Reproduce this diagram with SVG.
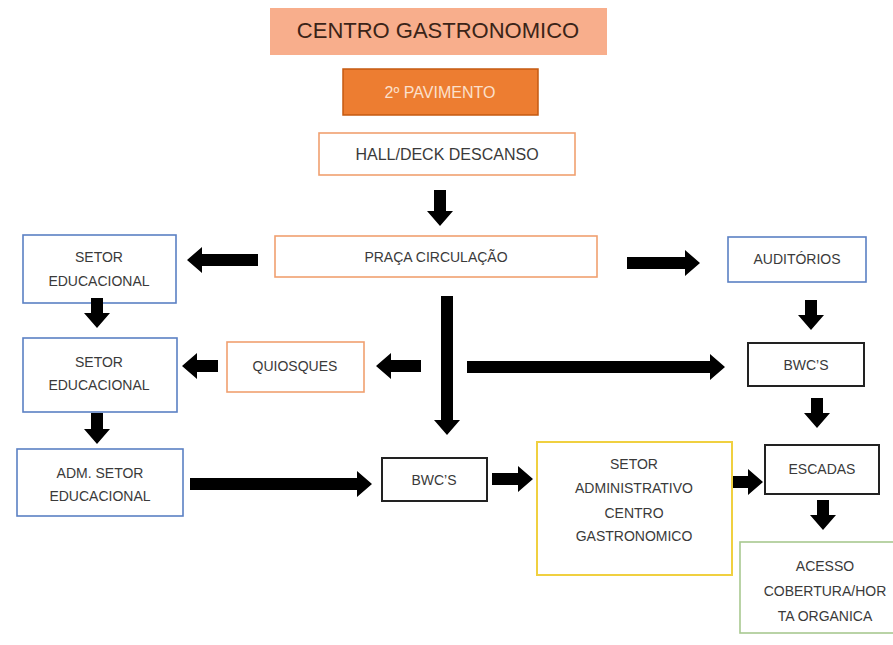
<svg xmlns="http://www.w3.org/2000/svg" width="893" height="645" viewBox="0 0 893 645">
<style>
text{font-family:"Liberation Sans",Arial,sans-serif;font-size:14px;fill:#3a3a3a;text-anchor:middle}
.box{fill:#fff;stroke-width:1.6}
.blue{stroke:#5b80c4}
.org{stroke:#f0a070}
.blk{stroke:#222;stroke-width:2}
.yel{stroke:#f0d040;stroke-width:2}
.grn{stroke:#a8c990}
.arr{fill:#000}
</style>
<rect width="893" height="645" fill="#fff"/>
<g id="title"><rect x="270" y="8" width="337" height="47" fill="#f8ae8c"/><text x="438" y="38" style="font-size:22px;fill:#3b2418">CENTRO GASTRONOMICO</text></g>
<g id="pavimento"><rect x="343" y="69" width="195" height="46" fill="#ed7d31" stroke="#c55a11" stroke-width="1.5"/><text x="440" y="98" style="font-size:16px;fill:#fbe0cc">2º PAVIMENTO</text></g>
<g id="hall"><rect class="box org" x="319" y="133" width="256" height="42"/><text x="447" y="160" style="font-size:16px">HALL/DECK DESCANSO</text></g>
<g id="praca"><rect class="box org" x="275" y="236" width="322" height="41"/><text x="436" y="262">PRAÇA CIRCULAÇÃO</text></g>
<g id="setor-edu-1"><rect class="box blue" x="23" y="235" width="153" height="68"/><text x="99" y="262">SETOR</text><text x="99" y="286">EDUCACIONAL</text></g>
<g id="setor-edu-2"><rect class="box blue" x="23" y="338" width="154" height="74"/><text x="99" y="367">SETOR</text><text x="99" y="390">EDUCACIONAL</text></g>
<g id="adm-setor-edu"><rect class="box blue" x="17" y="449" width="166" height="67"/><text x="100" y="478">ADM. SETOR</text><text x="100" y="501">EDUCACIONAL</text></g>
<g id="quiosques"><rect class="box org" x="227" y="342" width="137" height="50"/><text x="295" y="371">QUIOSQUES</text></g>
<g id="auditorios"><rect class="box blue" x="728" y="237" width="138" height="45"/><text x="797" y="264">AUDITÓRIOS</text></g>
<g id="bwc-right"><rect class="box blk" x="748" y="343" width="116" height="43"/><text x="806" y="370">BWC’S</text></g>
<g id="bwc-mid"><rect class="box blk" x="382" y="458" width="105" height="43"/><text x="434" y="485">BWC’S</text></g>
<g id="setor-adm"><rect class="box yel" x="537" y="442" width="195" height="133"/><text x="634" y="469">SETOR</text><text x="634" y="493">ADMINISTRATIVO</text><text x="634" y="518">CENTRO</text><text x="634" y="541">GASTRONOMICO</text></g>
<g id="escadas"><rect class="box blk" x="765" y="445" width="114" height="49"/><text x="822" y="474">ESCADAS</text></g>
<g id="acesso"><rect class="box grn" x="740" y="542" width="170" height="91"/><text x="825" y="571">ACESSO</text><text x="825" y="596">COBERTURA/HOR</text><text x="825" y="621">TA ORGANICA</text></g>
<g id="connectors" class="arr">
<path d="M258,254 L202,254 L202,247 L187,260 L202,273 L202,266 L258,266 Z"/>
<path d="M218,360 L197,360 L197,353 L182,366 L197,379 L197,372 L218,372 Z"/>
<path d="M421,360 L391,360 L391,353 L376,366 L391,379 L391,372 L421,372 Z"/>
<path d="M467,361 L710,361 L710,354 L725,367 L710,380 L710,373 L467,373 Z"/>
<path d="M627,257 L685,257 L685,250 L700,263 L685,276 L685,269 L627,269 Z"/>
<path d="M190,478 L357,478 L357,471 L372,484 L357,497 L357,490 L190,490 Z"/>
<path d="M492,473 L518,473 L518,466 L533,479 L518,492 L518,485 L492,485 Z"/>
<path d="M733,476 L748,476 L748,469 L763,482 L748,495 L748,488 L733,488 Z"/>
<path d="M434,190 L446,190 L446,211 L453,211 L440,226 L427,211 L434,211 Z"/>
<path d="M91,298 L103,298 L103,313 L110,313 L97,328 L84,313 L91,313 Z"/>
<path d="M91,413 L103,413 L103,429 L110,429 L97,444 L84,429 L91,429 Z"/>
<path d="M441,296 L453,296 L453,420 L460,420 L447,435 L434,420 L441,420 Z"/>
<path d="M805,300 L817,300 L817,315 L824,315 L811,330 L798,315 L805,315 Z"/>
<path d="M811,398 L823,398 L823,413 L830,413 L817,428 L804,413 L811,413 Z"/>
<path d="M817,500 L829,500 L829,515 L836,515 L823,530 L810,515 L817,515 Z"/>
</g>
</svg>
